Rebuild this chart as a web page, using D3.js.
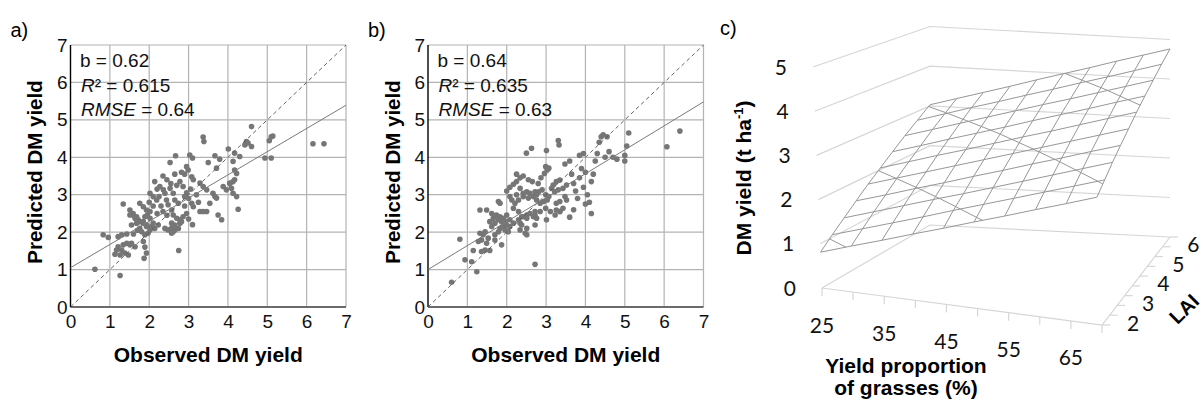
<!doctype html>
<meta charset="utf-8">
<title>DM yield</title>
<script src="https://cdn.jsdelivr.net/npm/d3@7"></script>
<style>
  body { margin: 0; background: #fff; }
  svg { font-family: "Liberation Sans", Arial, sans-serif; }
</style>
<svg id="chart" width="1203" height="401"></svg>
<script>
  // a) observed vs predicted DM yield [obs, pred]
  const pointsA = [
    [0.62,1.01],[0.83,1.93],[0.96,1.86],[1.26,0.84],[1.13,1.41],[1.17,1.52],[1.21,1.61],[1.26,1.39],[1.30,1.52],[1.34,1.66],
    [1.43,1.70],[1.51,1.66],[1.55,1.70],[1.38,1.44],[1.47,1.39],[1.21,1.88],[1.30,1.93],[1.43,1.95],[1.64,1.61],[1.89,1.60],
    [1.93,1.44],[1.87,1.30],[1.85,1.75],[1.55,2.19],[1.68,2.24],[1.76,2.10],[1.81,2.01],[1.89,1.93],[1.97,1.97],[2.02,2.06],
    [2.06,2.15],[1.93,2.19],[1.85,2.28],[1.72,2.33],[1.64,2.37],[1.59,2.46],[1.51,2.46],[1.89,2.41],[2.02,2.37],[2.10,2.24],
    [2.14,2.10],[2.23,2.19],[1.70,2.05],[1.60,1.95],[2.40,2.10],[2.48,2.06],[2.57,2.10],[2.61,2.01],[2.57,1.97],[2.65,2.06],
    [2.74,2.10],[2.78,2.24],[2.82,2.28],[2.78,2.33],[2.57,2.24],[2.65,2.19],[2.75,1.51],[1.34,2.75],[1.51,2.59],[1.59,2.50],
    [1.68,2.41],[1.76,2.28],[1.85,2.24],[1.93,2.15],[1.76,2.77],[1.85,2.68],[1.93,2.59],[2.02,2.55],[1.95,2.45],[2.20,2.50],
    [2.30,2.70],[2.35,2.55],[2.45,2.45],[2.44,2.86],[2.48,2.73],[2.57,2.59],[2.61,2.46],[2.70,2.37],[2.86,2.41],[2.95,2.50],
    [2.02,3.04],[2.10,2.95],[2.19,2.86],[2.14,3.35],[2.27,3.22],[2.36,3.13],[2.40,3.04],[2.53,3.17],[2.61,3.04],[2.65,2.86],
    [2.74,2.77],[2.78,3.35],[2.86,3.22],[2.00,2.80],[2.10,2.70],[2.25,2.95],[2.20,3.15],[2.35,3.50],[2.45,3.40],[2.55,3.30],
    [2.65,3.55],[2.70,3.25],[2.82,3.60],[2.90,3.55],[2.90,2.95],[2.90,2.70],[3.00,2.90],[3.05,3.15],[2.95,3.05],[3.20,3.00],
    [3.25,2.80],[3.00,2.35],[3.10,2.20],[2.53,3.86],[2.67,4.04],[3.03,4.06],[3.10,3.98],[2.95,3.75],[2.99,3.66],[3.08,3.48],
    [3.12,3.40],[3.37,4.54],[3.39,4.42],[4.01,4.22],[3.67,4.04],[3.79,3.95],[3.50,3.86],[4.13,3.89],[3.71,3.71],[4.17,3.66],
    [3.29,3.31],[3.37,3.22],[3.46,3.13],[3.62,3.04],[3.67,2.95],[3.71,2.91],[3.88,3.22],[3.96,3.13],[4.05,3.31],[4.09,3.17],
    [4.13,3.04],[4.22,2.95],[4.26,2.61],[3.84,2.33],[3.29,2.55],[3.37,2.55],[3.46,2.55],[3.08,2.77],[3.12,2.68],[3.54,2.77],
    [3.75,2.46],[4.47,4.42],[4.43,4.33],[4.51,4.38],[4.60,4.29],[4.60,4.82],[4.17,4.11],[4.30,4.02],[5.10,4.55],[5.14,4.57],
    [5.05,4.44],[4.94,3.98],[5.10,3.98],[6.16,4.36],[6.44,4.36],[4.22,3.57],[4.17,3.40],[4.13,3.35],[4.05,3.30]
  ]
  // b)
  const pointsB = [
    [0.60,0.66],[0.81,1.81],[0.94,1.26],[1.11,1.21],[1.24,0.94],[1.15,1.51],[1.36,1.48],[1.45,1.52],[1.57,1.51],[1.28,1.75],
    [1.36,1.79],[1.49,1.70],[1.53,1.84],[1.40,1.93],[1.32,1.97],[1.45,2.01],[1.70,1.79],[1.70,1.93],[1.87,1.66],[1.79,2.01],
    [1.83,2.10],[1.91,2.15],[1.96,2.06],[2.00,2.19],[2.08,2.15],[2.04,2.01],[1.96,2.28],[1.87,2.28],[1.79,2.33],[1.70,2.24],
    [1.62,2.15],[1.57,2.28],[1.66,2.37],[1.74,2.46],[1.83,2.41],[1.91,2.37],[2.00,2.46],[2.08,2.33],[2.17,2.24],[2.34,2.24],
    [2.38,2.19],[2.51,2.10],[2.47,1.97],[2.51,1.93],[2.34,2.06],[2.30,2.33],[2.42,2.41],[2.51,2.46],[2.59,2.50],[2.68,2.41],
    [2.72,2.19],[2.76,2.37],[2.72,2.55],[2.72,1.14],[3.01,2.33],[3.23,2.46],[3.35,2.55],[3.31,4.45],[3.33,4.33],[3.01,4.18],
    [2.50,4.11],[2.63,4.24],[3.48,3.82],[2.99,3.75],[3.03,3.66],[2.96,3.57],[3.07,3.71],[3.26,3.35],[3.35,3.39],[3.18,3.26],
    [3.14,3.17],[3.31,3.13],[3.22,3.08],[3.43,3.17],[3.52,3.26],[3.48,2.95],[3.52,2.86],[3.35,2.82],[3.26,2.77],[2.99,3.00],
    [3.07,2.95],[3.03,2.86],[2.94,2.82],[2.85,2.77],[2.76,2.86],[2.72,3.08],[2.81,3.08],[2.90,3.13],[2.76,3.00],[2.68,2.95],
    [2.55,2.91],[2.59,3.04],[2.51,3.08],[2.42,3.04],[2.34,3.17],[2.42,2.95],[2.30,2.86],[2.21,2.77],[2.13,2.86],[2.08,2.95],
    [2.25,3.00],[2.17,2.64],[2.30,2.55],[2.38,2.41],[2.51,2.37],[2.72,2.46],[2.85,2.55],[2.99,2.64],[3.11,2.55],[3.26,2.59],
    [3.35,2.55],[3.43,2.64],[1.79,2.82],[1.83,2.77],[1.32,2.59],[1.49,2.59],[1.62,2.50],[1.74,2.41],[2.00,3.10],[2.08,3.20],
    [2.17,3.28],[2.25,3.35],[2.34,3.45],[2.25,3.55],[2.42,3.50],[2.55,3.40],[2.65,3.35],[2.80,3.30],[2.87,3.45],[3.60,3.90],
    [3.65,3.55],[3.70,3.30],[3.75,3.10],[3.80,2.90],[3.85,3.45],[3.90,3.70],[3.95,3.20],[4.00,3.60],[4.05,3.00],[4.10,2.80],
    [4.15,3.35],[4.20,3.55],[4.25,3.90],[4.30,4.10],[4.35,4.40],[4.40,4.55],[4.45,4.60],[4.55,4.55],[4.50,4.00],[4.60,4.15],
    [4.70,4.00],[4.80,3.95],[5.00,4.05],[5.05,4.30],[5.10,4.65],[5.00,3.90],[6.07,4.28],[6.40,4.70],[3.85,4.05],[3.95,4.10],
    [4.00,2.75],[4.15,2.50],[3.60,2.40],[3.70,2.60]
  ]
  // regression line [intercept, slope]
  const fitA = [1.05, 0.62]
  const fitB = [1.0, 0.64]
  const statsA = ['0.62', '0.615', '0.64']
  const statsB = ['0.64', '0.635', '0.63']
  const scatterTicks = [0, 1, 2, 3, 4, 5, 6, 7]

  // c) response surface: rows = LAI, columns = grass proportion
  const grassCats = [25, 30, 35, 40, 45, 50, 55, 60, 65, 70]
  const laiSeries = [2, 2.5, 3, 3.5, 4, 4.5, 5, 5.5, 6, 6.5]
  const zTicks = [0, 1, 2, 3, 4, 5]
  const contourLevels = [1, 2, 3, 4]
  const surface = [
    [0.81, 1.04, 1.26, 1.49, 1.71, 1.94, 2.16, 2.39, 2.61, 2.84],
    [1.06, 1.28, 1.50, 1.72, 1.95, 2.17, 2.39, 2.61, 2.83, 3.05],
    [1.30, 1.52, 1.74, 1.96, 2.17, 2.39, 2.61, 2.83, 3.05, 3.27],
    [1.55, 1.76, 1.98, 2.19, 2.41, 2.62, 2.84, 3.05, 3.27, 3.48],
    [1.80, 2.01, 2.22, 2.43, 2.64, 2.85, 3.06, 3.27, 3.48, 3.69],
    [2.04, 2.25, 2.46, 2.66, 2.87, 3.08, 3.28, 3.49, 3.70, 3.91],
    [2.29, 2.49, 2.70, 2.90, 3.10, 3.31, 3.51, 3.71, 3.92, 4.12],
    [2.54, 2.74, 2.94, 3.14, 3.34, 3.54, 3.73, 3.93, 4.13, 4.33],
    [2.78, 2.98, 3.18, 3.37, 3.57, 3.76, 3.96, 4.15, 4.35, 4.55],
    [3.03, 3.22, 3.41, 3.60, 3.80, 3.99, 4.18, 4.38, 4.57, 4.76]
  ]

  const chart = d3.select('#chart')

  // 散点面板
  function drawScatter(x0, points, fit, stats, tag) {
    const g = chart.append('g')
    const x = d3.scaleLinear().domain([0, 7]).range([x0, x0 + 275.5])
    const y = d3.scaleLinear().domain([0, 7]).range([307, 45])

    // grid
    g.append('g').selectAll('line.v').data(scatterTicks.slice(1)).join('line')
      .attr('x1', d => x(d)).attr('x2', d => x(d))
      .attr('y1', y(0)).attr('y2', y(7))
      .attr('stroke', '#b3b3b3').attr('stroke-width', 1.2)
    g.append('g').selectAll('line.h').data(scatterTicks.slice(1)).join('line')
      .attr('x1', x(0)).attr('x2', x(7))
      .attr('y1', d => y(d)).attr('y2', d => y(d))
      .attr('stroke', '#b3b3b3').attr('stroke-width', 1.2)

    // axes
    const fmt = d3.format('d')
    const xAxis = g.append('g').attr('transform', `translate(0,${y(0)})`)
      .call(d3.axisBottom(x).tickValues(scatterTicks).tickFormat(fmt).tickSize(0).tickPadding(8))
    const yAxis = g.append('g').attr('transform', `translate(${x(0)},0)`)
      .call(d3.axisLeft(y).tickValues(scatterTicks).tickFormat(fmt).tickSize(0).tickPadding(3))
    xAxis.select('.domain').remove()
    yAxis.select('.domain').remove()
    g.selectAll('.tick text').attr('font-size', 19).attr('fill', '#111')
      .attr('font-family', '"Liberation Sans", Arial, sans-serif')

    g.append('line').attr('x1', x(0)).attr('x2', x(7)).attr('y1', y(0)).attr('y2', y(0))
      .attr('stroke', '#6b6b6b').attr('stroke-width', 2)
    g.append('line').attr('x1', x(0)).attr('x2', x(0)).attr('y1', y(0)).attr('y2', y(7))
      .attr('stroke', '#000').attr('stroke-width', 1.4)

    // points
    g.append('g').selectAll('circle').data(points).join('circle')
      .attr('cx', d => x(d[0])).attr('cy', d => y(d[1])).attr('r', 2.8)
      .attr('fill', '#767676')

    // 1:1 and fitted lines
    g.append('line').attr('x1', x(0)).attr('y1', y(0)).attr('x2', x(7)).attr('y2', y(7))
      .attr('stroke', '#555').attr('stroke-width', 0.9).attr('stroke-dasharray', '4,3')
    g.append('line').attr('x1', x(0)).attr('y1', y(fit[0])).attr('x2', x(7)).attr('y2', y(fit[0] + fit[1] * 7))
      .attr('stroke', '#7a7a7a').attr('stroke-width', 1)

    // stats text
    const st = g.append('g').attr('font-size', 19).attr('fill', '#111')
    st.append('text').attr('x', x0 + 9.5).attr('y', 67).text(`b = ${stats[0]}`)
    const r2 = st.append('text').attr('x', x0 + 10.5).attr('y', 92)
    r2.append('tspan').attr('font-style', 'italic').text('R')
    r2.append('tspan').text(`² = ${stats[1]}`)
    const rm = st.append('text').attr('x', x0 + 10.5).attr('y', 116)
    rm.append('tspan').attr('font-style', 'italic').text('RMSE')
    rm.append('tspan').text(` = ${stats[2]}`)

    // titles
    g.append('text').attr('x', (x(0) + x(7)) / 2).attr('y', 362)
      .attr('text-anchor', 'middle').attr('font-weight', 'bold').attr('font-size', 21)
      .text('Observed DM yield')
    g.append('text').attr('transform', `translate(${x0 - 28.5},172) rotate(-90)`)
      .attr('text-anchor', 'middle').attr('font-weight', 'bold').attr('font-size', 20.5)
      .text('Predicted DM yield')
    g.append('text').attr('x', x0 - 60).attr('y', 37).attr('font-size', 20).text(tag)
  }

  drawScatter(70.5, pointsA, fitA, statsA, 'a)')
  drawScatter(428, pointsB, fitB, statsB, 'b)')

  // ---- c) 3D surface ----
  const uScale = d3.scaleLinear().domain([25, 70]).range([0, 1])
  const vScale = d3.scaleLinear().domain([2, 6.5]).range([0, 1])
  // floor corners: front-left, front-right, back-right, back-left
  const floorX = [822, 1102, 1170, 930]
  const floorY = [288, 325, 237, 225]
  const zScaleCorner = [44.2, 45, 39.5, 39.7]
  const leanCorner = [1.8, 1.8, 0, 0]

  function project(gr, lai, z) {
    const u = uScale(gr), v = vScale(lai)
    const w = [(1 - u) * (1 - v), u * (1 - v), u * v, (1 - u) * v]
    const mix = arr => d3.sum(arr, (a, i) => a * w[i])
    return [mix(floorX) - z * mix(leanCorner), mix(floorY) - z * mix(zScaleCorner)]
  }

  const c = chart.append('g')
  const line = d3.line()
  const gMin = grassCats[0], gMax = grassCats[grassCats.length - 1]
  const lMin = laiSeries[0], lMax = laiSeries[laiSeries.length - 1]

  // walls
  zTicks.forEach(z => {
    c.append('path').attr('d', line([project(gMin, lMin, z), project(gMin, lMax, z), project(gMax, lMax, z)]))
      .attr('fill', 'none').attr('stroke', '#d6d6d6').attr('stroke-width', 1.2)
  })
  // floor axes
  c.append('path').attr('d', line([project(gMin, lMin, 0), project(gMax, lMin, 0), project(gMax, lMax, 0)]))
    .attr('fill', 'none').attr('stroke', '#d6d6d6').attr('stroke-width', 1.2)
  grassCats.forEach(gr => {
    const p = project(gr, lMin, 0)
    c.append('line').attr('x1', p[0]).attr('y1', p[1]).attr('x2', p[0]).attr('y2', p[1] + 8)
      .attr('stroke', '#d6d6d6').attr('stroke-width', 1.2)
  })
  laiSeries.forEach(l => {
    const p = project(gMax, l, 0)
    c.append('line').attr('x1', p[0]).attr('y1', p[1]).attr('x2', p[0] + 8).attr('y2', p[1])
      .attr('stroke', '#d6d6d6').attr('stroke-width', 1.2)
  })

  // surface mesh
  const mesh = c.append('g').attr('fill', 'none').attr('stroke', '#979797').attr('stroke-width', 1)
  laiSeries.forEach((l, j) => {
    mesh.append('path').attr('d', line(grassCats.map((gr, i) => project(gr, l, surface[j][i]))))
  })
  grassCats.forEach((gr, i) => {
    mesh.append('path').attr('d', line(laiSeries.map((l, j) => project(gr, l, surface[j][i]))))
  })
  // contour lines at major units
  contourLevels.forEach(t => {
    for (let j = 0; j < laiSeries.length - 1; j++) {
      for (let i = 0; i < grassCats.length - 1; i++) {
        const corners = [
          [grassCats[i], laiSeries[j], surface[j][i]],
          [grassCats[i + 1], laiSeries[j], surface[j][i + 1]],
          [grassCats[i + 1], laiSeries[j + 1], surface[j + 1][i + 1]],
          [grassCats[i], laiSeries[j + 1], surface[j + 1][i]]
        ]
        const pts = []
        for (let k = 0; k < 4; k++) {
          const a = corners[k], b = corners[(k + 1) % 4]
          if ((a[2] - t) * (b[2] - t) < 0) {
            const f = (t - a[2]) / (b[2] - a[2])
            pts.push(project(a[0] + f * (b[0] - a[0]), a[1] + f * (b[1] - a[1]), t))
          }
        }
        if (pts.length >= 2) mesh.append('path').attr('d', line(pts.slice(0, 2)))
        if (pts.length === 4) mesh.append('path').attr('d', line(pts.slice(2, 4)))
      }
    }
  })

  // tick labels
  const tickFont = 'Lato, "Open Sans", sans-serif'
  zTicks.forEach(z => {
    const p = project(gMin, lMin, z)
    c.append('text').attr('x', p[0] - 26).attr('y', p[1]).attr('dy', '0.36em')
      .attr('text-anchor', 'end').attr('font-family', tickFont).attr('font-size', 21).attr('fill', '#111')
      .text(z)
  })
  grassCats.filter(gr => (gr - 25) % 10 === 0).forEach(gr => {
    const p = project(gr, lMin, 0)
    c.append('text').attr('x', p[0]).attr('y', p[1] + 37).attr('dy', '0.36em')
      .attr('text-anchor', 'middle').attr('font-family', tickFont).attr('font-size', 21).attr('fill', '#111')
      .text(gr)
  })
  laiSeries.filter(l => Number.isInteger(l)).forEach(l => {
    const p = project(gMax, l, 0)
    c.append('text').attr('x', p[0] + 31).attr('y', p[1] - 2).attr('dy', '0.36em')
      .attr('text-anchor', 'middle').attr('font-family', tickFont).attr('font-size', 21).attr('fill', '#111')
      .text(l)
  })

  // titles
  const zt = c.append('text').attr('transform', 'translate(751,178) rotate(-90)')
    .attr('text-anchor', 'middle').attr('font-weight', 'bold').attr('font-size', 21)
  zt.append('tspan').text('DM yield (t ha')
  zt.append('tspan').attr('font-size', 13).attr('dy', -8).text('-1')
  zt.append('tspan').attr('dy', 8).text(')')
  c.append('text').attr('x', 906).attr('y', 373).attr('text-anchor', 'middle')
    .attr('font-weight', 'bold').attr('font-size', 21).text('Yield proportion')
  c.append('text').attr('x', 906).attr('y', 395).attr('text-anchor', 'middle')
    .attr('font-weight', 'bold').attr('font-size', 21).text('of grasses (%)')
  c.append('text').attr('transform', 'translate(1184,309) rotate(-45)')
    .attr('text-anchor', 'middle').attr('dy', '0.35em').attr('font-weight', 'bold').attr('font-size', 20)
    .text('LAI')
  c.append('text').attr('x', 720).attr('y', 35).attr('font-size', 20).text('c)')
</script>
